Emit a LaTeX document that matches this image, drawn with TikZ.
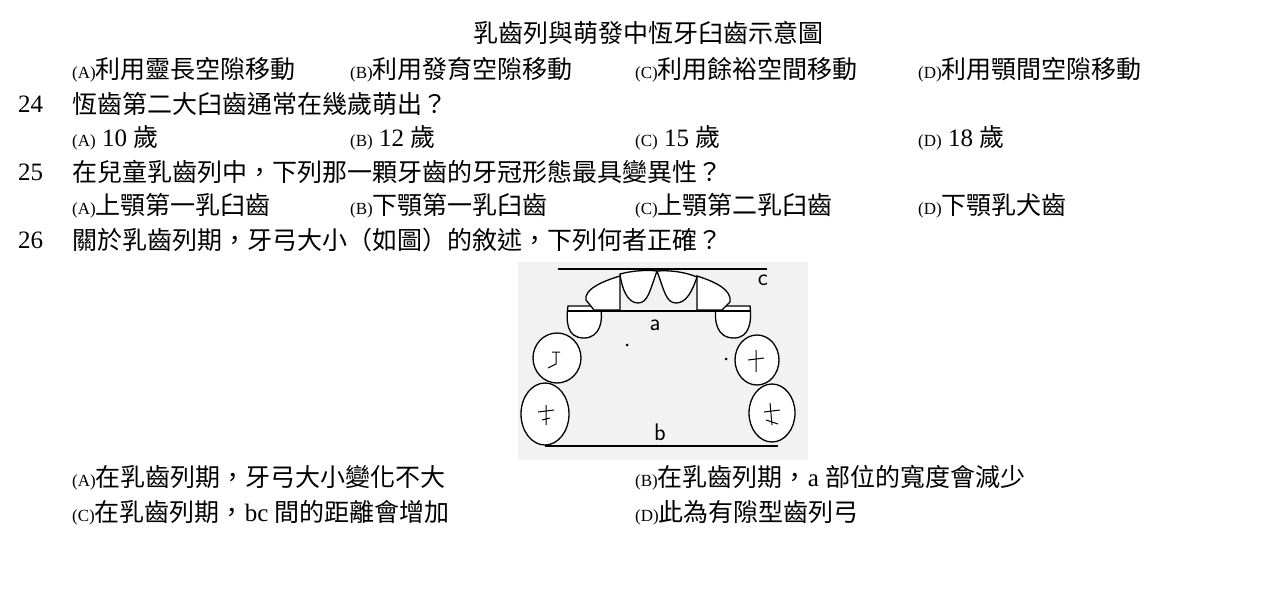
\documentclass[tikz,border=0pt]{standalone}
\usepackage{fontspec}
\setmainfont{Liberation Serif}
\newfontfamily\cjk{Noto Sans CJK TC}
\newcommand{\zh}[1]{{\cjk #1}}
\newcommand{\lb}[1]{{\fontsize{17}{17}\selectfont(#1)}}
\begin{document}
\begin{tikzpicture}[x=1pt,y=-1pt,
  txt/.style={anchor=west,inner sep=0pt,font=\fontsize{25}{28}\selectfont},
  tooth/.style={draw,line width=1.3pt,fill=white},
  ln/.style={line width=1.2pt}]
\useasboundingbox (0,0) rectangle (1274,613);
\node[txt,anchor=center] (title) at (648,33) {\zh{乳齒列與萌發中恆牙臼齒示意圖}};
\node[txt] (a1) at (72,70) {\lb{A}\zh{利用靈長空隙移動}};
\node[txt] (b1) at (350,70) {\lb{B}\zh{利用發育空隙移動}};
\node[txt] (c1) at (635,70) {\lb{C}\zh{利用餘裕空間移動}};
\node[txt] (d1) at (918,70) {\lb{D}\zh{利用顎間空隙移動}};
\node[txt] (n24) at (18,104) {24};
\node[txt] (q24) at (72,104) {\zh{恆齒第二大臼齒通常在幾歲萌出？}};
\node[txt] (a2) at (72,138) {\lb{A} 10 \zh{歲}};
\node[txt] (b2) at (350,138) {\lb{B} 12 \zh{歲}};
\node[txt] (c2) at (635,138) {\lb{C} 15 \zh{歲}};
\node[txt] (d2) at (918,138) {\lb{D} 18 \zh{歲}};
\node[txt] (n25) at (18,172) {25};
\node[txt] (q25) at (72,172) {\zh{在兒童乳齒列中，下列那一顆牙齒的牙冠形態最具變異性？}};
\node[txt] (a3) at (72,206) {\lb{A}\zh{上顎第一乳臼齒}};
\node[txt] (b3) at (350,206) {\lb{B}\zh{下顎第一乳臼齒}};
\node[txt] (c3) at (635,206) {\lb{C}\zh{上顎第二乳臼齒}};
\node[txt] (d3) at (918,206) {\lb{D}\zh{下顎乳犬齒}};
\node[txt] (n26) at (18,240) {26};
\node[txt] (q26) at (72,240) {\zh{關於乳齒列期，牙弓大小（如圖）的敘述，下列何者正確？}};
\node[txt] (a4) at (72,478) {\lb{A}\zh{在乳齒列期，牙弓大小變化不大}};
\node[txt] (b4) at (635,478) {\lb{B}\zh{在乳齒列期，}a \zh{部位的寬度會減少}};
\node[txt] (c4) at (72,513) {\lb{C}\zh{在乳齒列期，}bc \zh{間的距離會增加}};
\node[txt] (d4) at (635,513) {\lb{D}\zh{此為有隙型齒列弓}};
% figure
\fill[gray!10] (518,262) rectangle (808,460);
\draw[ln] (558,269) -- (767,269);
\draw[ln] (545,446) -- (778,446);
% molars
\draw[tooth] (545,414) ellipse[x radius=24,y radius=31];
\draw[tooth] (772,413) ellipse[x radius=23,y radius=29];
\draw[tooth] (557,358) ellipse[x radius=24,y radius=25];
\draw[tooth] (757,360) ellipse[x radius=22,y radius=25];
% molar grooves
\draw[line width=1pt] (552,352) -- (560,352) (556,352) -- (556,364) -- (548,368);
\draw[line width=1pt] (546,405) -- (546,425) (538,412) -- (554,410) (542,420) -- (550,418);
\draw[line width=1pt] (756,350) -- (756,372) (748,360) -- (764,358);
\draw[line width=1pt] (770,403) -- (772,425) (764,412) -- (780,410) (766,420) -- (778,424);
% canines
\draw[tooth] (568,306) -- (600,306) .. controls (604,320) and (600,338) .. (584,338) .. controls (566,338) and (566,320) .. (568,306) -- cycle;
\draw[tooth] (716,306) -- (750,306) .. controls (752,320) and (750,338) .. (734,338) .. controls (716,338) and (714,320) .. (716,306) -- cycle;
% laterals
\draw[tooth] (586,300) .. controls (584,290) and (600,282) .. (620,276) -- (620,310) -- (594,310) -- cycle;
\draw[tooth] (697,276) .. controls (716,282) and (732,290) .. (730,302) -- (722,310) -- (697,310) -- cycle;
% centrals
\draw[tooth] (620,274) .. controls (635,270) and (650,270) .. (657,271) .. controls (650,290) and (648,303) .. (638,303) .. controls (628,303) and (622,290) .. (620,274) -- cycle;
\draw[tooth] (657,271) .. controls (670,270) and (685,272) .. (697,277) .. controls (692,292) and (686,303) .. (676,303) .. controls (666,303) and (664,290) .. (657,271) -- cycle;
\draw[ln] (568,311) -- (750,311);
\node[font=\fontsize{24}{24}\selectfont\sffamily] (lc) at (763,280) {c};
\node[font=\fontsize{24}{24}\selectfont\sffamily] (la) at (655,325) {a};
\node[font=\fontsize{24}{24}\selectfont\sffamily] (lbb) at (660,432) {b};
\fill (627,345) circle (1.5);
\fill (726,359) circle (1.5);
\end{tikzpicture}
\end{document}
